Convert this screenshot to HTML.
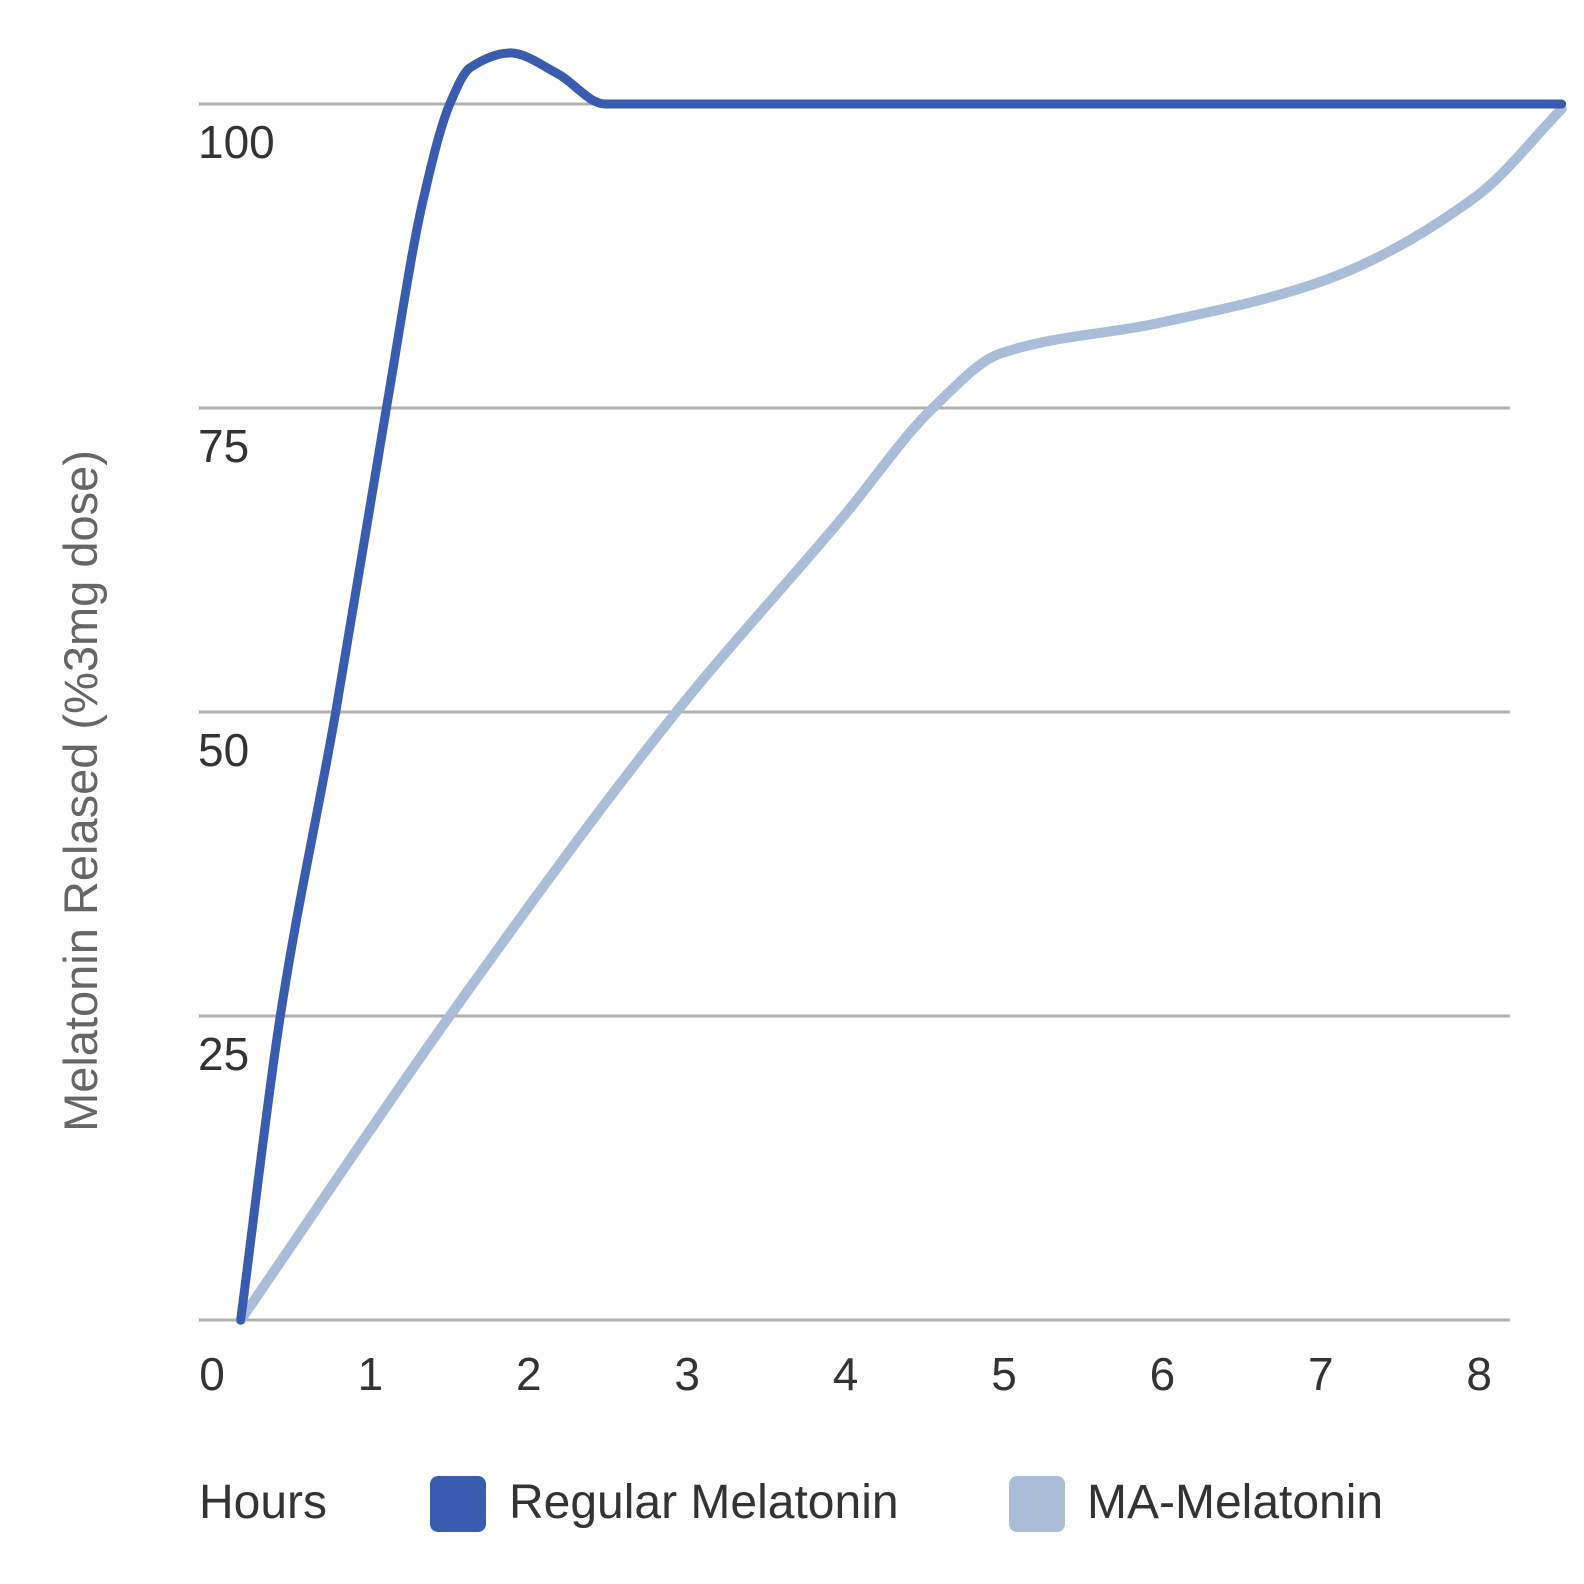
<!DOCTYPE html>
<html><head><meta charset="utf-8"><style>
html,body{margin:0;padding:0;background:#fff;}
svg{display:block;font-family:"Liberation Sans",sans-serif;}
</style></head><body>
<svg id="chart" width="1584" height="1584" viewBox="0 0 1584 1584">
<g id="grid"></g>
<g id="yticks"></g>
<g id="xticks"></g>
<g id="series"></g>
<text x="0" y="0" transform="translate(97,791) rotate(-90)" text-anchor="middle" font-size="47" fill="#666">Melatonin Relased (%3mg dose)</text>
<g>
<text x="199" y="1518" font-size="48" fill="#333">Hours</text>
<rect x="430" y="1476" width="56" height="56" rx="8" fill="#3a5cb0"/>
<text x="509" y="1518" font-size="48" fill="#333">Regular Melatonin</text>
<rect x="1009" y="1476" width="56" height="56" rx="8" fill="#a9bcd8"/>
<text x="1087" y="1518" font-size="48" fill="#333">MA-Melatonin</text>
</g>
</svg>
<script>
const yTicks=[0,25,50,75,100];
const yTickLabels=["","25","50","75","100"];
const xTicks=[0,1,2,3,4,5,6,7,8];
const regularHours=[0.2,0.45,0.8,1.12,1.35,1.52,1.65,1.9,2.2,2.5,8.54];
const regularValues=[0,25,50,75,92,100,103,104.2,102.5,100,100];
const maHours=[0.2,1.52,2.95,4.0,4.57,5.0,6.0,7.0,8.0,8.54];
const maValues=[0,25,50,66,75,79.5,82,85.3,92.4,99.6];

const ns="http://www.w3.org/2000/svg";
function y(v){return 1320-v*12.16;}
function x(h){return 209+158.4*h;}
function mk(tag,attrs,parent){const e=document.createElementNS(ns,tag);for(const k in attrs)e.setAttribute(k,attrs[k]);parent.appendChild(e);return e;}
const grid=document.getElementById('grid');
yTicks.forEach((v,i)=>{
  const l=mk('line',{x1:199,x2:1510,y1:y(v),y2:y(v),stroke:'#b0b0b0','stroke-width':3},grid);
  
  
  if(yTickLabels[i]){
    const t=mk('text',{x:198,y:y(v)+54,'font-size':46,fill:'#333'},document.getElementById('yticks'));
    t.textContent=yTickLabels[i];
    
    
  }
});
xTicks.forEach(h=>{
  const t=mk('text',{x:x(h)+3,y:1390,'font-size':46,fill:'#333','text-anchor':'middle'},document.getElementById('xticks'));
  t.textContent=String(h);
  
  
});
function path(hs,vs){
  const X=hs.map(x),Y=vs.map(y),n=X.length;
  const d=[],m=new Array(n);
  for(let i=0;i<n-1;i++)d.push((Y[i+1]-Y[i])/(X[i+1]-X[i]));
  m[0]=d[0];m[n-1]=d[n-2];
  for(let i=1;i<n-1;i++){
    if(d[i-1]*d[i]<=0)m[i]=0;
    else{const w1=2*(X[i+1]-X[i])+(X[i]-X[i-1]),w2=(X[i+1]-X[i])+2*(X[i]-X[i-1]);m[i]=(w1+w2)/(w1/d[i-1]+w2/d[i]);}
  }
  let s='M'+X[0]+','+Y[0];
  for(let i=0;i<n-1;i++){
    const h=(X[i+1]-X[i])/3;
    s+=' C'+(X[i]+h)+','+(Y[i]+m[i]*h)+' '+(X[i+1]-h)+','+(Y[i+1]-m[i+1]*h)+' '+X[i+1]+','+Y[i+1];
  }
  return s;
}
const s=document.getElementById('series');
const ma=mk('path',{d:path(maHours,maValues),fill:'none',stroke:'#a9bcd8','stroke-width':10,'stroke-linecap':'round','stroke-linejoin':'round'},s);


const rg=mk('path',{d:path(regularHours,regularValues),fill:'none',stroke:'#3a5cb0','stroke-width':9,'stroke-linecap':'round','stroke-linejoin':'round'},s);


</script>
</body></html>
